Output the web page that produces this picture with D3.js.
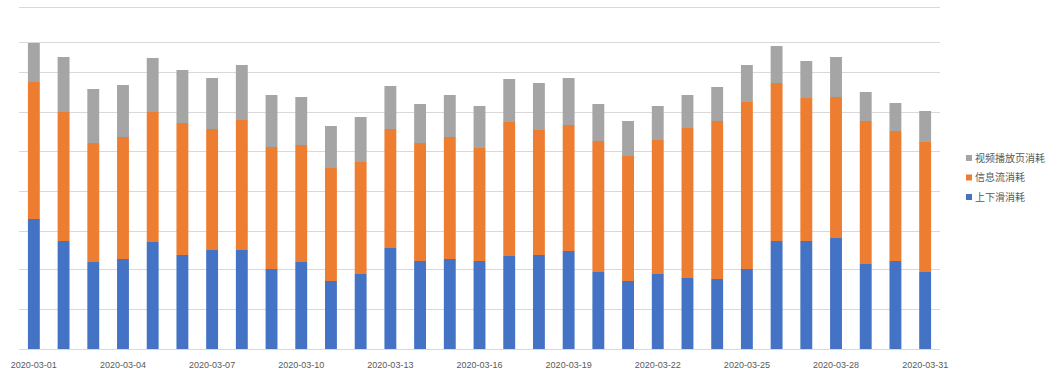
<!DOCTYPE html>
<html><head><meta charset="utf-8">
<script src="https://cdn.jsdelivr.net/npm/d3@7"></script>
<style>body{margin:0;background:#fff;font-family:"Noto Sans CJK SC","Liberation Sans",sans-serif}</style>
</head><body><svg id="c" width="1056" height="383"></svg>
<script>
const dates = d3.range(1, 32).map(d => "2020-03-" + String(d).padStart(2, "0"));
const tickLabels = dates.filter((d, i) => i % 3 === 0);
const seriesNames = ["上下滑消耗", "信息流消耗", "视频播放页消耗"];
const slideValues = [130,108,87,90,107,94,99,99,80,87,68,75,101,88,90,88,93,94,98,77,68,75,71,70,80,108,108,111,85,88,77];
const feedValues  = [137,129,119,122,130,132,121,130,122,117,113,112,119,118,122,113,134,125,126,131,125,134,150,158,167,158,143,141,143,130,130];
const videoValues = [39,55,54,52,54,53,51,55,52,48,42,45,43,39,42,42,43,47,47,37,35,34,33,34,37,37,37,40,29,28,31];
const gridValues = [0,40,80,118,158,198,237,277,307,342];
const colors = ["#4472C4", "#ED7D31", "#A5A5A5"];

const svg = d3.select("#c");
const x = d3.scaleBand().domain(dates).range([19, 940]).paddingInner(0.6).paddingOuter(0.3);
const y = d3.scaleLinear().domain([0, 342]).range([349, 7]);

svg.append("g").selectAll("line").data(gridValues).join("line")
  .attr("x1", 19).attr("x2", 940)
  .attr("y1", d => Math.round(y(d)) + 0.5).attr("y2", d => Math.round(y(d)) + 0.5)
  .attr("stroke", "#d9d9d9").attr("stroke-width", 1);

const rows = dates.map((d, i) => ({date: d, s0: slideValues[i], s1: feedValues[i], s2: videoValues[i]}));
const stack = d3.stack().keys(["s0", "s1", "s2"])(rows);

svg.append("g").selectAll("g").data(stack).join("g")
  .attr("fill", (d, i) => colors[i])
  .selectAll("rect").data(d => d).join("rect")
  .attr("x", d => x(d.data.date))
  .attr("width", x.bandwidth())
  .attr("y", d => y(d[1]))
  .attr("height", d => y(d[0]) - y(d[1]));

const xAxis = d3.axisBottom(x).tickValues(tickLabels).tickSize(0).tickPadding(0);
const gx = svg.append("g").attr("transform", "translate(0,349)").call(xAxis);
gx.select(".domain").remove();
gx.selectAll("text").attr("y", 19).attr("dy", 0)
  .attr("font-size", 9).attr("fill", "#595959")
  .attr("font-family", "Liberation Sans, Arial, sans-serif");

const legendOrder = [2, 1, 0];
const lg = svg.append("g");
legendOrder.forEach((si, k) => {
  const yy = 158 + k * 19.5;
  lg.append("rect").attr("x", 966).attr("y", yy - 3).attr("width", 6).attr("height", 6).attr("fill", colors[si]);
  lg.append("text").attr("x", 975).attr("y", yy).attr("dy", "0.35em")
    .attr("font-size", 10).attr("fill", "#595959").text(seriesNames[si]);
});
</script></body></html>
